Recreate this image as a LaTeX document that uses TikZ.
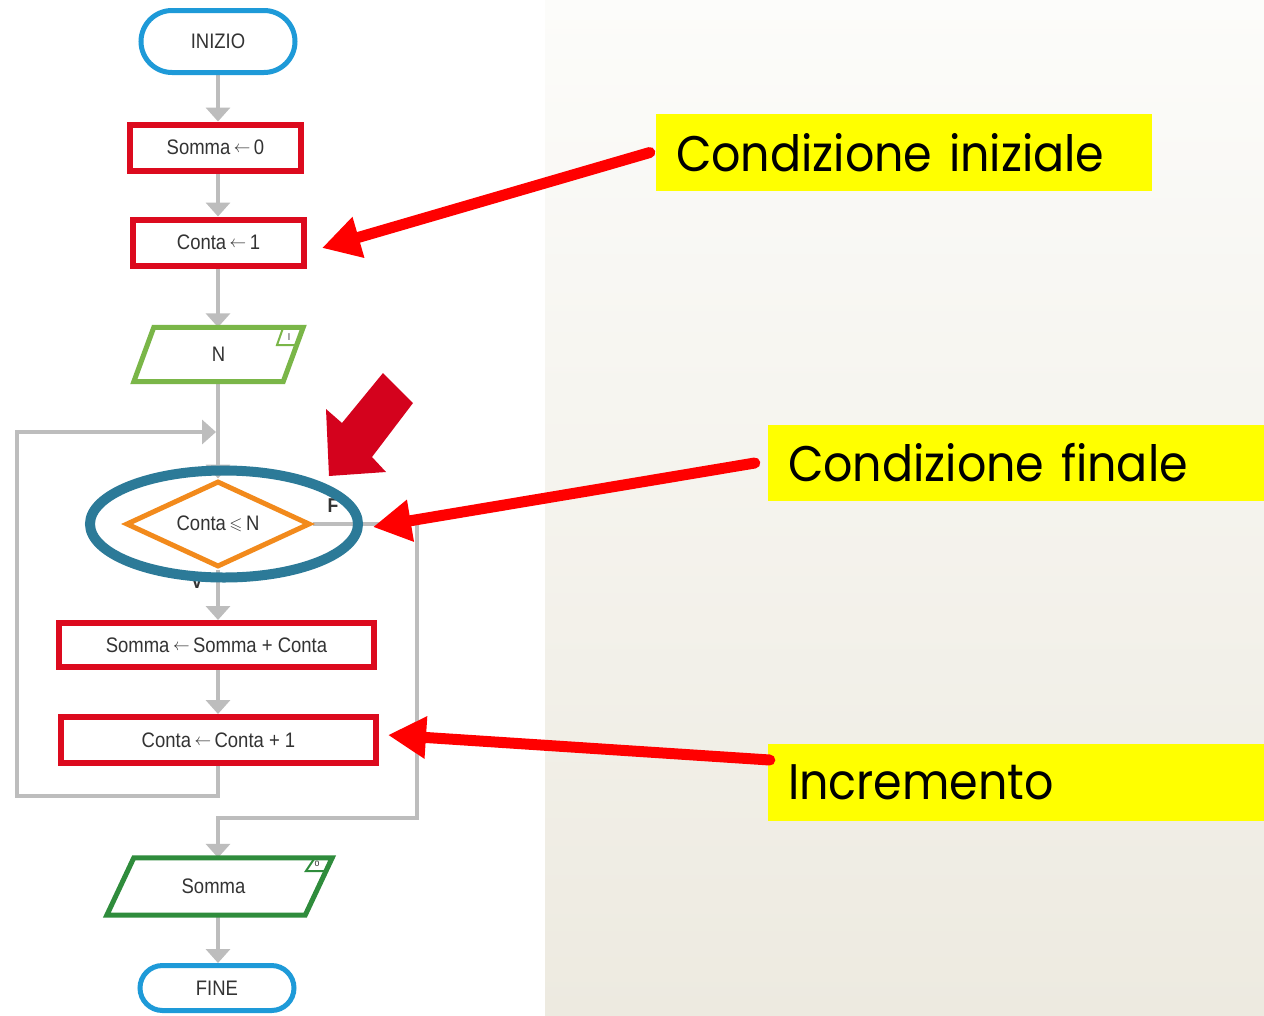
\documentclass[tikz,border=0pt]{standalone}
\usepackage{amssymb}
\usepackage{fontspec}
\usetikzlibrary{shapes.geometric,shapes.misc,arrows.meta,backgrounds}
\newfontfamily\fcfont{Liberation Sans}[FakeStretch=0.88]
\newfontfamily\lblfont{Poppins}[FakeStretch=0.92]

\definecolor{termblue}{HTML}{1E9AD8}
\definecolor{procred}{HTML}{DC0A1E}
\definecolor{ingreen}{HTML}{7AB648}
\definecolor{outgreen}{HTML}{2F8C3C}
\definecolor{decorange}{HTML}{F28A1C}
\definecolor{ringteal}{HTML}{2C7A98}
\definecolor{flowgray}{HTML}{BDBDBD}
\definecolor{txtgray}{HTML}{333333}
\definecolor{blockred}{HTML}{D4021D}
\definecolor{callred}{HTML}{FF0000}
\definecolor{labyellow}{HTML}{FFFF00}
\definecolor{panelTop}{HTML}{FCFCFA}
\definecolor{panelBot}{HTML}{EDEAE0}

% assignment arrow used inside the boxes
\newcommand\asg{\,\raisebox{0.1em}{\scalebox{0.8}{$\leftarrow$}}\,}

\begin{document}
\begin{tikzpicture}[x=1pt,y=-1pt,
  fctext/.style={font=\fcfont\fontsize{21}{25}\selectfont, text=txtgray},
  term/.style={rounded rectangle, draw=termblue, line width=5pt, fill=white,
    minimum width=154pt, inner sep=0pt, fctext},
  proc/.style={rectangle, draw=procred, line width=6pt, fill=white,
    minimum height=46pt, inner sep=0pt, fctext},
  iobox/.style={rectangle, inner sep=0pt, fctext},
  dec/.style={diamond, draw=decorange, line width=5pt, fill=white, aspect=2,
    minimum width=184pt, minimum height=86pt, inner sep=0pt, fctext},
  flow/.style={draw=flowgray, line width=4pt, -{Triangle[length=14pt,width=24pt]}},
  lbl/.style={fill=labyellow, minimum width=496pt, minimum height=77pt,
    text width=456pt, align=left, inner xsep=20pt, inner ysep=0pt,
    font=\lblfont\fontsize{50}{60}\selectfont},
  callout/.style={draw=callred, line width=11pt, line cap=round,
    -{Triangle[length=38pt,width=40pt]}},
  tabmark/.style={line width=2pt},
  tabtext/.style={font=\fcfont\fontsize{10}{12}\selectfont, text=txtgray, inner sep=0pt}
]
\useasboundingbox (0,0) rectangle (1264,1015);

% main vertical axis of the flow
\coordinate (axis) at (218,0);

% ---------- flowchart nodes ----------
\node[term, minimum height=62pt] (start) at (218,41.5) {INIZIO};
\node[proc, minimum width=171pt] (s0) at (215.5,147.5) {Somma\asg 0};
\node[proc, minimum width=171pt] (c1) at (218.5,242.5) {Conta\asg 1};

\node[iobox, minimum width=149pt, minimum height=54pt] (in) at (218.5,354.5) {N};
\draw[draw=ingreen, line width=5pt, line join=miter]
  ([xshift=-10pt]in.south west) -- ([xshift=-10pt]in.south east)
  -- ([xshift=10pt]in.north east) -- ([xshift=10pt]in.north west) -- cycle;
\draw[draw=ingreen, tabmark] (283,328) -- (277,345) -- (298,345);
\node[tabtext] (intag) at (289,337) {I};

\node[dec] (dec) at (218,524) {Conta\,\raisebox{0.05em}{\scalebox{0.8}{$\leqslant$}}\,N};

\node[proc, minimum width=315pt, minimum height=44pt] (s1) at (216.5,645) {Somma\asg Somma + Conta};
\node[proc, minimum width=315pt] (c2) at (218.5,740) {Conta\asg Conta + 1};

\node[iobox, minimum width=198pt, minimum height=57pt] (out) at (219.5,886.5) {\hspace*{-12pt}Somma};
\draw[draw=outgreen, line width=5pt, line join=miter]
  ([xshift=-13.5pt]out.south west) -- ([xshift=-13.5pt]out.south east)
  -- ([xshift=13.5pt]out.north east) -- ([xshift=13.5pt]out.north west) -- cycle;
\draw[draw=outgreen, tabmark] (314,859) -- (306,871) -- (327,871);
\node[tabtext] (outtag) at (317,864) {o};

\node[term, minimum height=45pt] (fine) at (217,988) {FINE};

% loop and branch corners
\coordinate (join) at (216,432);
\coordinate (loopB) at (17,796);
\coordinate (loopT) at (17,432);
\coordinate (fcorner) at (417,818);
\coordinate (fjoin) at (218,818);

% ---------- connectors (behind the boxes) ----------
\begin{scope}[on background layer]
  \fill[white] (0,0) rectangle (1264,1015);
  \shade[top color=panelTop, bottom color=panelBot] (545,0) rectangle (1264,1015);
  \draw[flow] (start.south -| axis) -- (s0.north -| axis);
  \draw[flow] (s0.south -| axis) -- (c1.north -| axis);
  \draw[flow] (c1.south -| axis) -- (in.north -| axis);
  \draw[flow] (in.south -| axis) -- (dec.north -| axis);
  \draw[flow] (dec.south -| axis) -- (s1.north -| axis);
  \draw[flow] (s1.south -| axis) -- (c2.north -| axis);
  \draw[flow] (c2.south -| axis) |- (loopB) -- (loopT) -- (join);
  \draw[flow] (dec.east) -| (fcorner) -- (fjoin) -- (fjoin |- out.north);
  \draw[flow] (out.south -| axis) -- (fine.north -| axis);
\end{scope}

% branch labels
\node[fctext, font=\fcfont\fontsize{20}{24}\selectfont\bfseries] (flab) at (333,506) {F};
\node[fctext, font=\fcfont\fontsize{20}{24}\selectfont\bfseries] (vlab) at (197,582) {V};

% highlight ring around the test
\node[ellipse, draw=ringteal, line width=10pt, minimum width=268pt,
  minimum height=107pt, inner sep=0pt] (ring) at (224,524) {};

% block arrow pointing at the test
\fill[blockred] (383,373) -- (413,403) -- (372,457) -- (386,472) -- (329,476)
  -- (326,409) -- (342,423) -- cycle;

% ---------- annotations ----------
\node[lbl] (lab1) at (904,152.5) {Condizione iniziale};
\node[lbl, minimum height=76pt] (lab2) at (1016,463) {Condizione finale};
\node[lbl] (lab3) at (1016,782.5) {Incremento};

\draw[callout] ([xshift=-6pt]lab1.west) -- ([xshift=15pt,yshift=-5.5pt]c1.east);
\draw[callout] ([xshift=-13pt]lab2.west) -- ([xshift=10pt,yshift=-3pt]ring.east);
\draw[callout] ([xshift=2pt,yshift=22.5pt]lab3.west) -- ([xshift=9pt,yshift=5pt]c2.east);
\end{tikzpicture}
\end{document}
